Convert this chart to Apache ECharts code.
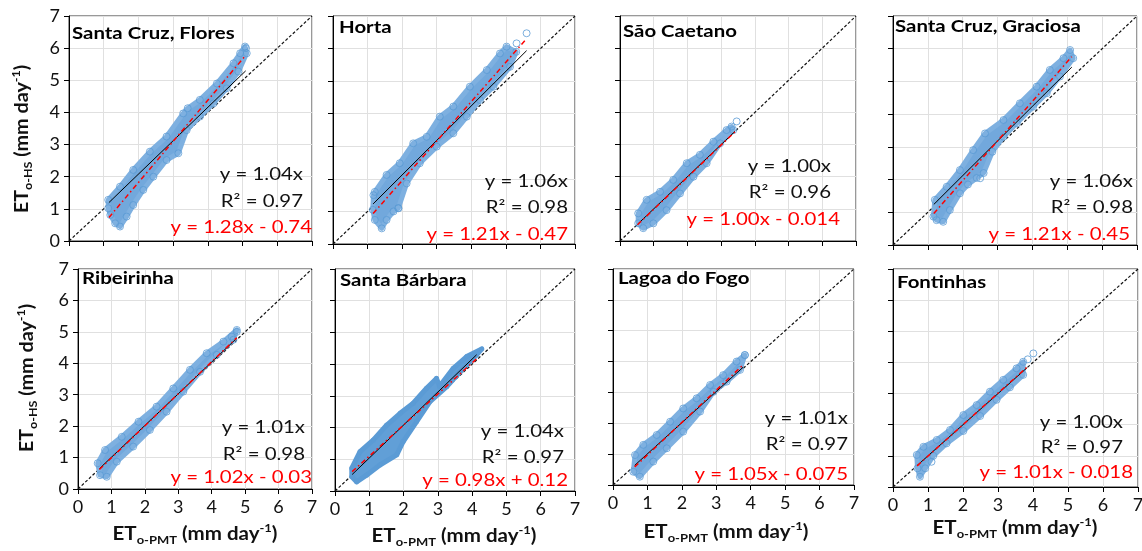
<!DOCTYPE html>
<html>
<head>
<meta charset="utf-8">
<script src="https://cdn.jsdelivr.net/npm/echarts@6/dist/echarts.min.js"></script>
<style>
  html, body { margin: 0; padding: 0; background: #fff; }
  #main { width: 1142px; height: 551px; }
</style>
</head>
<body>
<div id="main"></div>
<script>
  const stations = ['Santa Cruz, Flores', 'Horta', 'São Caetano', 'Santa Cruz, Graciosa',
    'Ribeirinha', 'Santa Bárbara', 'Lagoa do Fogo', 'Fontinhas']
  const slopeOrigin = [1.04, 1.06, 1.00, 1.06, 1.01, 1.04, 1.01, 1.00] // y = a x
  const rSquared = [0.97, 0.98, 0.96, 0.98, 0.98, 0.97, 0.97, 0.97]
  const fitSlope = [1.28, 1.21, 1.00, 1.21, 1.02, 0.98, 1.05, 1.01] // red fit
  const fitIntercept = [-0.74, -0.47, -0.014, -0.45, -0.03, 0.12, -0.075, -0.018]
  const fitRange = [[1.15, 5.09], [1.16, 5.6], [0.52, 3.41], [1.17, 5.13],
    [0.64, 4.75], [0.5, 4.13], [0.63, 3.78], [0.69, 3.83]]
  const axisTicks = [0, 1, 2, 3, 4, 5, 6, 7]

  // outline of each point cloud
  // upper edge left -> right, lower edge right -> left
  const cloudUpper = [
    [[1.13, 1.28], [1.47, 1.69], [1.85, 2.21], [2.33, 2.78], [2.81, 3.25], [3.29, 3.97], [3.42, 4.13], [3.77, 4.39], [4.26, 4.9], [4.74, 5.53], [4.93, 5.84], [5.07, 6.05]],
    [[1.17, 1.5], [1.21, 1.6], [1.55, 2.12], [1.93, 2.48], [2.32, 3.09], [2.71, 3.29], [3.09, 3.91], [3.48, 4.22], [3.96, 4.83], [4.45, 5.34], [4.83, 5.85], [5.02, 6.06]],
    [[0.54, 0.86], [0.79, 1.28], [1.19, 1.53], [1.58, 1.9], [1.98, 2.42], [2.37, 2.68], [2.77, 3.09], [3.16, 3.45], [3.31, 3.56]],
    [[1.2, 1.38], [1.54, 1.78], [1.92, 2.29], [2.3, 2.9], [2.64, 3.41], [3.17, 3.82], [3.64, 4.33], [4.12, 4.84], [4.5, 5.35], [4.89, 5.71], [5.08, 5.96]],
    [[0.59, 0.82], [0.81, 1.24], [1.31, 1.66], [1.81, 2.14], [2.35, 2.62], [2.85, 3.2], [3.35, 3.79], [3.85, 4.32], [4.35, 4.69], [4.75, 5.06]],
    [[0.49, 0.72], [0.73, 1.24], [1.12, 1.61], [1.51, 2.08], [1.9, 2.45], [2.28, 2.77], [2.67, 3.24], [2.96, 3.55], [3.05, 3.3], [3.45, 3.87], [3.84, 4.24], [4.28, 4.48]],
    [[0.64, 0.97], [0.88, 1.3], [1.27, 1.62], [1.66, 2.05], [2.04, 2.48], [2.43, 2.81], [2.82, 3.24], [3.2, 3.56], [3.59, 4.0], [3.83, 4.21]],
    [[0.68, 1.03], [0.87, 1.29], [1.25, 1.51], [1.63, 1.83], [2.01, 2.31], [2.39, 2.63], [2.77, 3.06], [3.15, 3.44], [3.53, 3.81], [3.72, 4.02]]
  ]
  const cloudLower = [
    [[5.12, 5.84], [4.88, 5.27], [4.54, 4.75], [4.16, 4.28], [3.77, 3.87], [3.39, 3.45], [3.15, 2.73], [2.81, 2.52], [2.43, 2.0], [2.14, 1.59], [1.85, 1.12], [1.66, 0.76], [1.47, 0.45], [1.33, 0.55], [1.19, 0.81], [1.13, 1.02]],
    [[5.3, 5.9], [5.12, 5.44], [4.64, 4.83], [4.25, 4.42], [3.87, 3.91], [3.48, 3.4], [3.0, 2.99], [2.51, 2.48], [2.13, 1.86], [1.89, 1.1], [1.75, 1.0], [1.55, 0.74], [1.41, 0.48], [1.21, 0.74], [1.15, 1.05]],
    [[3.36, 3.45], [2.97, 3.04], [2.57, 2.42], [2.18, 2.0], [1.78, 1.48], [1.38, 0.96], [0.99, 0.55], [0.69, 0.4], [0.54, 0.55]],
    [[5.17, 5.71], [4.79, 5.15], [4.41, 4.64], [4.02, 4.23], [3.55, 3.72], [3.17, 3.31], [2.85, 2.85], [2.6, 2.2], [2.4, 2.05], [2.15, 1.85], [1.92, 1.58], [1.63, 1.07], [1.44, 0.71], [1.25, 0.76], [1.16, 0.87]],
    [[4.65, 4.75], [4.15, 4.27], [3.65, 3.73], [3.15, 3.1], [2.65, 2.46], [2.15, 1.88], [1.65, 1.35], [1.16, 0.87], [0.86, 0.39], [0.66, 0.44]],
    [[4.13, 4.29], [3.65, 3.76], [3.26, 3.29], [2.77, 2.82], [2.38, 2.19], [1.99, 1.56], [1.8, 1.14], [1.31, 0.82], [0.92, 0.5], [0.63, 0.29], [0.49, 0.45]],
    [[3.69, 3.73], [3.3, 3.35], [2.92, 3.02], [2.53, 2.38], [2.04, 1.73], [1.56, 1.19], [1.17, 0.76], [0.78, 0.27], [0.59, 0.43]],
    [[3.72, 3.6], [3.34, 3.2], [2.96, 2.8], [2.49, 2.28], [2.01, 1.8], [1.53, 1.4], [1.15, 1.0], [0.92, 0.6], [0.77, 0.33], [0.7, 0.6]]
  ]
  // loose points outside the main cloud
  const outliers = [
    [[5.1, 6.0]],
    [[5.31, 6.16], [5.6, 6.47], [1.89, 1.1]],
    [[3.46, 3.72]],
    [[2.5, 2.04]],
    [[4.6, 4.85], [4.75, 5.0]],
    [[2.96, 3.55]],
    [[3.83, 4.21]],
    [[3.85, 4.1], [4.01, 4.29], [1.1, 0.81]]
  ]

  // plot boxes and text spots (px)
  const boxes = [
    { left: 69, top: 16, width: 243, height: 225 },
    { left: 333, top: 16, width: 242, height: 228 },
    { left: 620, top: 16, width: 236, height: 225 },
    { left: 893, top: 16, width: 244, height: 229 },
    { left: 78, top: 269, width: 234, height: 220 },
    { left: 335, top: 269, width: 240, height: 222 },
    { left: 613, top: 269, width: 241, height: 216 },
    { left: 893, top: 269, width: 245, height: 218 }
  ]
  const titleSpot = [[72, 34], [339, 28], [623, 32], [895, 27], [82, 279], [340, 281], [618, 279], [897, 283]]
  const eqSpot = [ // [black right, red right, y1, y2, y3]
    [303, 312, 175, 202, 228], [568, 568, 182, 208, 235], [831, 840, 167, 193, 220], [1133, 1130, 182, 208, 235],
    [305, 312, 428, 455, 478], [564, 568, 432, 458, 481], [848, 848, 419, 445, 475], [1123, 1133, 423, 448, 473]
  ]
  const xNameSpot = [[195, 534], [454, 536], [726, 532], [1015, 528]]
  const yNameSpot = [[22, 139], [27, 378]]

  const FONT = 'Lato'
  const chart = echarts.init(document.getElementById('main'))

  const grids = boxes.map(b => ({
    left: b.left, top: b.top, width: b.width, height: b.height,
    show: true, borderColor: '#333', borderWidth: 1,
    containLabel: false, outerBoundsMode: 'none'
  }))

  const mkAxis = (i, showLabel) => ({
    gridIndex: i, type: 'value', min: 0, max: 7, interval: 1,
    axisLine: { show: true, onZero: false, lineStyle: { color: '#000', width: 1 } },
    axisTick: { show: true, inside: false, length: 5, lineStyle: { color: '#000' } },
    axisLabel: {
      show: showLabel, margin: 9, fontFamily: FONT, fontSize: 18, color: '#111',
      formatter: v => axisTicks.includes(v) ? String(v) : ''
    },
    splitLine: { show: true, lineStyle: { color: '#e0e0e0', width: 1 } }
  })

  const xAxes = boxes.map((b, i) => mkAxis(i, i >= 4))
  const yAxes = boxes.map((b, i) => mkAxis(i, i === 0 || i === 4))

  const series = []
  stations.forEach((name, i) => {
    const filled = i === 5
    // 1:1 line
    series.push({
      type: 'line', xAxisIndex: i, yAxisIndex: i, silent: true, symbol: 'none', z: 1,
      data: [[0, 0], [7, 7]],
      lineStyle: { color: '#111', width: 1.2, type: [3, 2] }
    })
    // cloud body
    series.push({
      type: 'custom', xAxisIndex: i, yAxisIndex: i, silent: true, z: 2,
      data: [0],
      renderItem: (params, api) => {
        const pts = cloudUpper[i].concat(cloudLower[i]).map(p => api.coord(p))
        return {
          type: 'polygon', shape: { points: pts },
          style: { fill: filled ? '#619fd7' : '#72a8dc', stroke: filled ? '#5b9bd5' : '#7eb0e0', lineWidth: 5, lineJoin: 'round' }
        }
      }
    })
    // edge points
    series.push({
      type: 'scatter', xAxisIndex: i, yAxisIndex: i, silent: true, z: 3,
      data: cloudUpper[i].concat(cloudLower[i], outliers[i]),
      symbol: 'circle', symbolSize: filled ? 5 : 7,
      itemStyle: filled
        ? { color: '#5b9bd5' }
        : { color: 'rgba(255,255,255,0)', borderColor: '#5b9bd5', borderWidth: 1 }
    })
    const [x0, x1] = fitRange[i]
    series.push({
      type: 'line', xAxisIndex: i, yAxisIndex: i, silent: true, symbol: 'none', z: 4,
      data: [[x0, slopeOrigin[i] * x0], [x1, slopeOrigin[i] * x1]],
      lineStyle: { color: '#000', width: 1 }
    })
    series.push({
      type: 'line', xAxisIndex: i, yAxisIndex: i, silent: true, symbol: 'none', z: 5,
      data: [[x0, fitSlope[i] * x0 + fitIntercept[i]], [x1, fitSlope[i] * x1 + fitIntercept[i]]],
      lineStyle: { color: '#ff0000', width: 1.5, type: [5, 3, 1.5, 3] }
    })
  })

  const graphic = []
  stations.forEach((name, i) => {
    graphic.push({
      type: 'text', x: titleSpot[i][0], y: titleSpot[i][1], scaleX: 1.2, z: 10,
      style: { text: name, fontFamily: FONT, fontWeight: 'bold', fontSize: 17, fill: '#000', align: 'left', verticalAlign: 'middle' }
    })
    const e = eqSpot[i]
    const b = fitIntercept[i]
    const redText = 'y = ' + fitSlope[i].toFixed(2) + 'x ' + (b < 0 ? '- ' : '+ ') + String(Math.abs(b))
    const lines = [
      ['y = ' + slopeOrigin[i].toFixed(2) + 'x', e[0], e[2], '#111'],
      ['R² = ' + rSquared[i].toFixed(2), e[0], e[3], '#111'],
      [redText, e[1], e[4], '#ff0000']
    ]
    lines.forEach(l => graphic.push({
      type: 'text', x: l[1], y: l[2], scaleX: 1.2, z: 10,
      style: { text: l[0], fontFamily: FONT, fontSize: 17, fill: l[3], align: 'right', verticalAlign: 'middle' }
    }))
  })

  const richName = {
    m: { fontFamily: FONT, fontWeight: 'bold', fontSize: 19, lineHeight: 24, fill: '#111' },
    s: { fontFamily: FONT, fontWeight: 'bold', fontSize: 12, lineHeight: 13, verticalAlign: 'bottom', fill: '#111' },
    p: { fontFamily: FONT, fontWeight: 'bold', fontSize: 12, lineHeight: 13, verticalAlign: 'top', fill: '#111' }
  }
  xNameSpot.forEach(s => graphic.push({
    type: 'text', x: s[0], y: s[1], scaleX: 1.08, z: 10,
    style: { text: '{m|ET}{s|o-PMT}{m| (mm day}{p|-1}{m|)}', rich: richName, align: 'center', verticalAlign: 'middle' }
  }))
  yNameSpot.forEach(s => graphic.push({
    type: 'text', x: s[0], y: s[1], rotation: Math.PI / 2, scaleX: 1.04, z: 10,
    style: { text: '{m|ET}{s|o-HS}{m| (mm day}{p|-1}{m|)}', rich: richName, align: 'center', verticalAlign: 'middle' }
  }))

  chart.setOption({
    animation: false,
    backgroundColor: '#fff',
    grid: grids,
    xAxis: xAxes,
    yAxis: yAxes,
    series: series,
    graphic: graphic
  })
</script>
</body>
</html>
